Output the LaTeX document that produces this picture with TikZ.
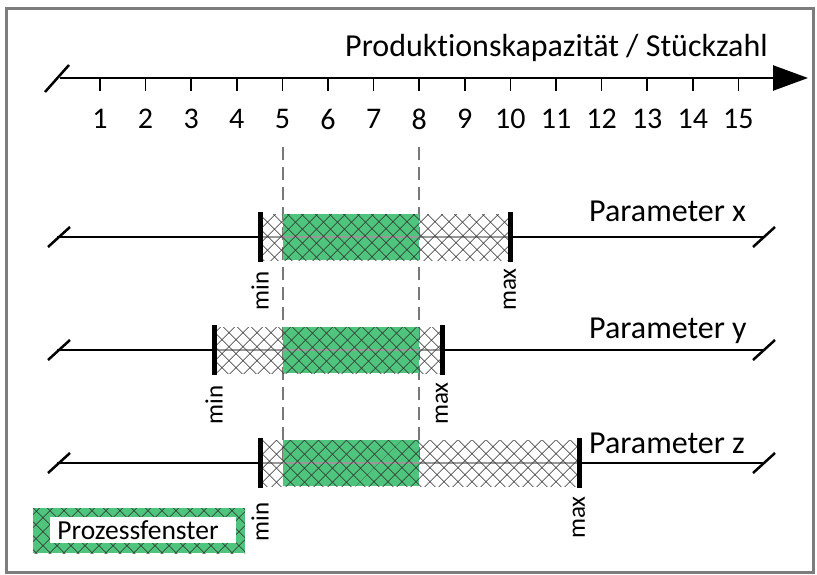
\documentclass[tikz,border=0pt]{standalone}
\usepackage{fontspec}
\setmainfont{Carlito}[Ligatures=NoCommon]
\usetikzlibrary{patterns.meta,arrows.meta}
\definecolor{pfgreen}{RGB}{78,196,124}
\definecolor{hatchc}{RGB}{45,45,45}
\definecolor{framec}{RGB}{125,125,125}
\definecolor{dashc}{RGB}{120,120,120}
\tikzset{
  big/.style={font=\fontsize{32}{34}\selectfont, inner sep=0pt},
  num/.style={font=\fontsize{30}{32}\selectfont, inner sep=0pt},
  small/.style={font=\fontsize{25}{27}\selectfont, inner sep=0pt, rotate=90, anchor=east},
  mainline/.style={line width=2.5pt, black},
  hatchA/.style={pattern={Lines[angle=45,distance=10.5pt,line width=0.75pt]}, pattern color=hatchc},
  hatchB/.style={pattern={Lines[angle=-45,distance=10.5pt,line width=0.75pt]}, pattern color=hatchc},
  limit/.style={line width=5pt, black},
  slash/.style={line width=2.5pt, black},
  window/.style={dashed, dash pattern=on 13pt off 7pt, line width=2.8pt, dashc},
  axtick/.style={line width=1.5pt, black},
}
% row: #1 center y, #2 xmin, #3 xmax, #4 label, #5 label baseline y, #6 min label y, #7 max label y
\newcommand{\paramrow}[7]{%
  \coordinate (L) at (57,#1);
  \coordinate (R) at (765,#1);
  \coordinate (A) at (#2,#1);
  \coordinate (B) at (#3,#1);
  \fill[pfgreen] (283,#1-23) rectangle (419,#1+23);
  \draw[line width=1.5pt, gray!80] (A) -- (B);
  \path[hatchA] (#2,#1-23) rectangle (#3,#1+23);
  \path[hatchB] (#2,#1-23) rectangle (#3,#1+23);
  \draw[mainline] (L) -- (A);
  \draw[mainline] (B) -- (R);
  \draw[slash] (48,#1+10) -- (70,#1-10);
  \draw[slash] (753,#1+10) -- (775,#1-10);
  \draw[limit] (#2,#1-25) -- (#2,#1+25);
  \draw[limit] (#3,#1-25) -- (#3,#1+25);
  \node[small] at (#2,#6) {min};
  \node[small] at (#3,#7) {max};
  \node[big, anchor=base west] at (589,#5) {#4};
}
\begin{document}
\begin{tikzpicture}[x=1pt,y=-1pt]
\useasboundingbox (0,0) rectangle (817,575);
\fill[white] (0,0) rectangle (817,575);
\draw[framec, line width=3pt] (6,9) rectangle (813,572);

% title and axis
\node[big, anchor=east] (title) at (768,48) {Produktionskapazität / Stückzahl};
\coordinate (ax0) at (60,78);
\coordinate (ax1) at (808,78);
\draw[mainline, -{Triangle[length=35pt,width=25pt]}] (ax0) -- (ax1);
\draw[slash] (45,92) -- (69,65);
\foreach \n in {1,...,15} {
  \pgfmathsetmacro{\xx}{100+45.6*(\n-1)}
  \draw[axtick] (\xx,78) -- (\xx,91);
  \node[num] (n\n) at (\xx,119) {\n};
}

% process window dashed lines
\draw[window] (283,147) -- (283,463);
\draw[window] (419,147) -- (419,463);

\paramrow{237}{260}{510}{Parameter x}{222}{271}{268}
\paramrow{350}{214}{442}{Parameter y}{338}{385}{382}
\paramrow{463}{260}{579}{Parameter z}{453}{502}{496}

% legend
\fill[pfgreen] (33,508) rectangle (245,553);
\path[hatchA] (33,508) rectangle (245,553);
\path[hatchB] (33,508) rectangle (245,553);
\fill[white] (50,517) rectangle (236,543);
\node[font=\fontsize{27.5}{29}\selectfont, inner sep=0pt] (legend) at (138,530) {Prozessfenster};
\end{tikzpicture}
\end{document}
